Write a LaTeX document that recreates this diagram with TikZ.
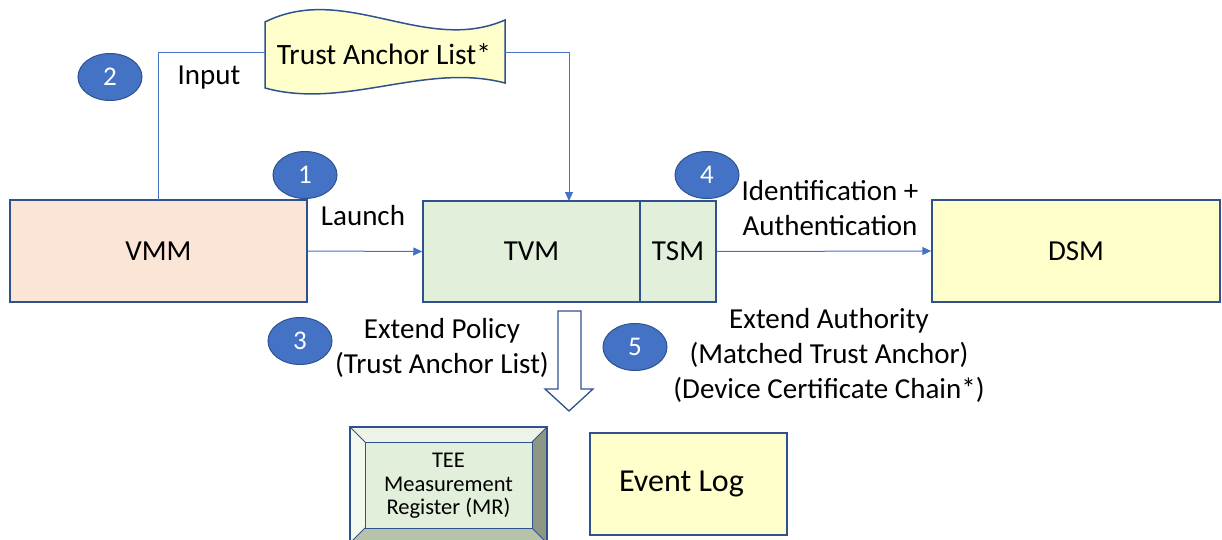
\documentclass[tikz,border=0pt]{standalone}
\usepackage{fontspec}
\setmainfont{Carlito}
\usetikzlibrary{arrows.meta,shapes.geometric}
\definecolor{edgeblue}{HTML}{2F528F}
\definecolor{lineblue}{HTML}{4472C4}
\definecolor{vmmfill}{HTML}{FBE5D6}
\definecolor{grnfill}{HTML}{E2EFDA}
\definecolor{ylwfill}{HTML}{FFFFCC}
\definecolor{bevtop}{HTML}{EDF3E6}
\definecolor{bevleft}{HTML}{F3F8EF}
\definecolor{bevright}{HTML}{8C9683}
\definecolor{bevbot}{HTML}{B6C2A9}
\tikzset{
  box/.style={draw=edgeblue, line width=1.5pt, inner sep=0pt, font=\fontsize{29}{34}\selectfont},
  lbl/.style={inner sep=0pt, align=center, font=\fontsize{29}{35}\selectfont},
  num/.style={ellipse, draw=edgeblue, line width=1pt, fill=lineblue, text=white, minimum width=64pt, minimum height=47pt, inner sep=0pt, font=\fontsize{27}{30}\selectfont},
  conn/.style={draw=lineblue, line width=1pt},
  arr/.style={conn, -{Triangle[length=9pt,width=8pt]}}
}
\begin{document}
\begin{tikzpicture}[x=1pt,y=-1pt]
\useasboundingbox (0,0) rectangle (1222,540);
% boxes
\node[box, fill=vmmfill, minimum width=297pt, minimum height=102pt] (vmm) at (158.5,251) {VMM};
\node[box, fill=grnfill, minimum width=217pt, minimum height=101pt] (tvm) at (531.5,251.5) {TVM};
\node[box, fill=grnfill, minimum width=76pt, minimum height=101pt] (tsm) at (678,251.5) {TSM};
\node[box, fill=ylwfill, minimum width=288pt, minimum height=102pt] (dsm) at (1076,251) {DSM};
% wave document
\draw[draw=edgeblue, line width=1.5pt, fill=ylwfill]
  (265,22) .. controls (345,-18) and (425,55) .. (505,20)
  -- (505,83) .. controls (425,62) and (345,110) .. (265,88) -- cycle;
\node[lbl, font=\fontsize{29.5}{35}\selectfont] (tal) at (384,54) {Trust Anchor List*};
\coordinate (talL) at (265,53);
\coordinate (talR) at (505,53);
\coordinate (vmmIn) at (158,200);
\coordinate (tvmIn) at (569,201);
% connectors
\draw[conn] (vmmIn) |- (talL);
\draw[arr] (talR) -| (tvmIn);
\draw[arr] (vmm.east) -- (tvm.west);
\draw[arr] (tsm.east) -- (dsm.west);
% labels
\node[lbl] (input) at (209,78) {Input};
\node[lbl] (launch) at (363,216) {Launch};
\node[lbl] (ident) at (830,208) {Identification +\\Authentication};
\node[lbl] (policy) at (442,348) {Extend Policy\\(Trust Anchor List)};
\node[lbl] (auth) at (829,355) {Extend Authority\\(Matched Trust Anchor)\\(Device Certificate Chain*)};
% numbered ellipses
\node[num] (n1) at (305,175) {1};
\node[num] (n2) at (110,77) {2};
\node[num] (n3) at (300,341) {3};
\node[num] (n4) at (707,175) {4};
\node[num] (n5) at (635,347) {5};
% block arrow
\draw[draw=edgeblue, line width=1.3pt, fill=white, line join=miter]
  (558,311) -- (581,311) -- (581,389) -- (593,389) -- (569,411) -- (545,389) -- (558,389) -- cycle;
% bevel box (MR)
\fill[bevtop] (350,427) -- (547,427) -- (532,442) -- (365,442) -- cycle;
\fill[bevleft] (350,427) -- (365,442) -- (365,528) -- (350,543) -- cycle;
\fill[bevright] (547,427) -- (547,543) -- (532,528) -- (532,442) -- cycle;
\fill[bevbot] (350,543) -- (365,528) -- (532,528) -- (547,543) -- cycle;
\fill[grnfill] (365,442) rectangle (532,528);
\draw[edgeblue, line width=1pt] (350,427) -- (365,442) (547,427) -- (532,442) (350,543) -- (365,528) (547,543) -- (532,528);
\draw[edgeblue, line width=1pt] (365,442) rectangle (532,528);
\draw[edgeblue, line width=1.5pt] (350,543) -- (350,427) -- (547,427) -- (547,543);
\node[inner sep=0pt, align=center, font=\fontsize{22.5}{23.5}\selectfont] (mr) at (448.5,486) {TEE\\Measurement\\Register (MR)};
% event log
\node[box, fill=ylwfill, minimum width=197pt, minimum height=102pt, font=\fontsize{32}{34}\selectfont] (evlog) at (688.5,484) {\hspace*{-14pt}Event Log};
\end{tikzpicture}
\end{document}
